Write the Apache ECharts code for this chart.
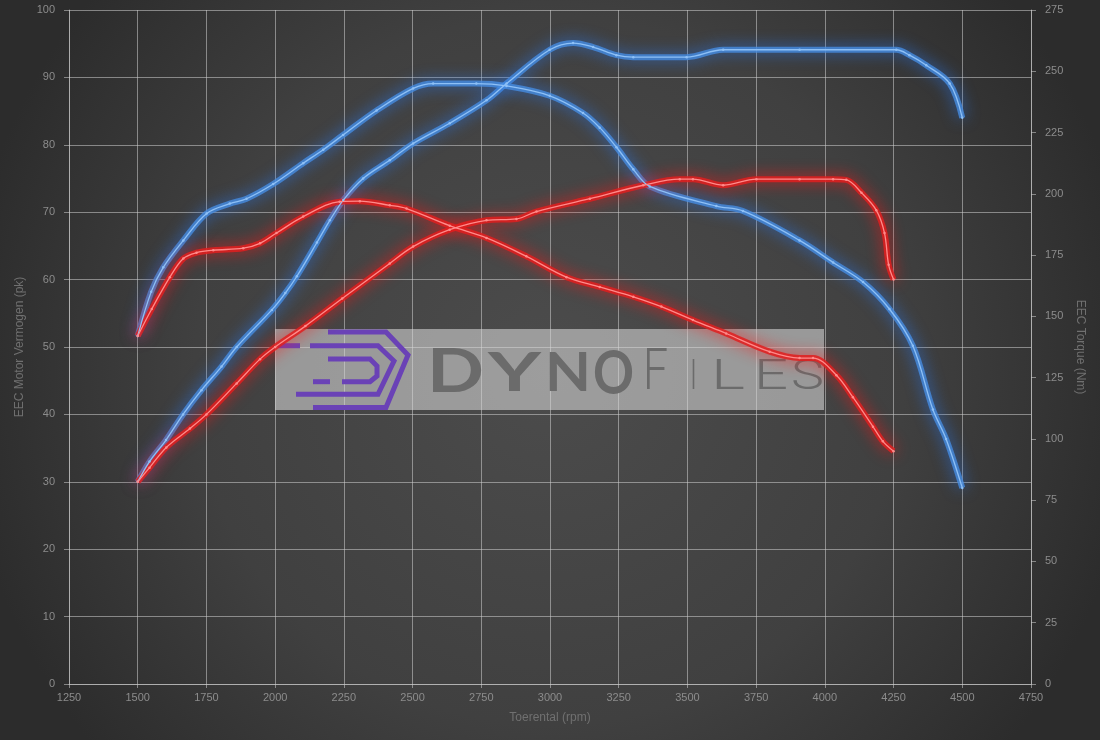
<!DOCTYPE html>
<html><head><meta charset="utf-8">
<script src="https://cdn.jsdelivr.net/npm/echarts@6/dist/echarts.min.js"></script>
<style>html,body{margin:0;padding:0;background:#3a3a3a;}#c{width:1100px;height:740px;}</style>
</head><body><div id="c"></div>
<script>
// ---- data ----
const bluePowerRpm = [1500,1543,1603,1665,1732,1805,1860,1988,2037,2079,2152,2199,2248,2320,2417,2502,2635,2769,2842,2999,3084,3157,3242,3303,3497,3630,3908,4260,4308,4369,4454,4500];
const bluePowerPk  = [30,33,36.2,40,43.6,47.1,50,55.5,58,60.5,65.5,68.8,71.8,75,77.7,80.2,83.2,86.6,89.1,94.1,95.1,94.5,93.3,93,93,94.1,94.1,94.1,93.3,91.8,89.1,84];

const blueTorqueRpm = [1500,1549,1593,1666,1751,1835,1896,1993,2102,2175,2247,2369,2502,2575,2732,2842,2999,3120,3181,3242,3303,3363,3605,3702,3908,4030,4139,4235,4320,4393,4441,4500];
const blueTorqueNm  = [142,160,170,181,192,196,198,204,212.5,218,224,234,243,245,245,244,240,233,227,219,210,203,195,193,181,172,164,153,138,112,100,80];

const redPowerRpm = [1500,1543,1604,1690,1750,1860,1945,2000,2110,2244,2417,2502,2635,2769,2878,2951,3145,3339,3472,3520,3630,3751,3908,4030,4078,4133,4187,4217,4232,4250];
const redPowerPk  = [30,32.1,35.1,37.9,40,44.6,48.2,50,53.1,57.2,62.4,64.9,67.4,68.8,69,70.1,72,74,74.9,74.9,74,74.9,74.9,74.9,74.8,72.9,70.3,66.9,62.2,60];

const redTorqueRpm = [1500,1551,1617,1666,1714,1775,1884,1945,2005,2102,2235,2308,2417,2478,2635,2769,2914,3060,3181,3303,3405,3520,3641,3799,3908,3957,4042,4102,4175,4211,4250];
const redTorqueNm  = [142,153,166,173.6,176,177,177.8,179.8,184,190.7,196.8,197,195.3,194,187,182,174.5,166,162,158,154,148.5,143,135.6,133,133,126,117,105,99,95];

const xMin = 1250, xMax = 4750, xStep = 250;
const pkMax = 100, pkStep = 10;
const nmMax = 275, nmStep = 25;

// ---- styles ----
const gridColor = 'rgba(205,205,205,0.55)';
const labelColor = '#8c8c8c';
const nameColor = '#707070';
const FONT = 'Liberation Sans, Arial, sans-serif';

function curve(name, rpm, vals, yIdx, band, core, glow) {
  const data = rpm.map((r, i) => [r, vals[i]]);
  return [
    { name: name, type: 'line', yAxisIndex: yIdx, data: data, smooth: 0.35, showSymbol: false, z: 3,
      lineStyle: { width: 6, color: band, shadowColor: glow, shadowBlur: 15 }, silent: true },
    { name: name + ' ', type: 'line', yAxisIndex: yIdx, data: data, smooth: 0.35, z: 4,
      symbol: 'circle', symbolSize: 2.5, showSymbol: true,
      itemStyle: { color: core }, lineStyle: { width: 1.3, color: core }, silent: true }
  ];
}

const series = [].concat(
  curve('Vermogen Stage', bluePowerRpm, bluePowerPk, 0, 'rgba(70,140,225,0.8)', '#8ec0f6', 'rgba(40,120,240,1)'),
  curve('Torque Stage', blueTorqueRpm, blueTorqueNm, 1, 'rgba(70,140,225,0.8)', '#8ec0f6', 'rgba(40,120,240,1)'),
  curve('Vermogen Origineel', redPowerRpm, redPowerPk, 0, 'rgba(225,30,30,0.85)', '#ff8a8a', 'rgba(255,20,20,1)'),
  curve('Torque Origineel', redTorqueRpm, redTorqueNm, 1, 'rgba(225,30,30,0.85)', '#ff8a8a', 'rgba(255,20,20,1)')
);

// ---- watermark ----
const purple = '#6a42b6';
function poly(pts, w) {
  return { type: 'polyline', z: 1, silent: true, shape: { points: pts },
    style: { stroke: purple, lineWidth: w || 5, fill: null, lineJoin: 'miter' } };
}
const mctx = document.createElement('canvas').getContext('2d');
function letter(ch, left, right, capTop, capBottom, weight, family, dy) {
  const cap = capBottom - capTop;
  const size = Math.round(cap / 0.72);
  const font = weight + ' ' + size + 'px ' + family;
  mctx.font = font;
  const w = mctx.measureText(ch).width || (size * 0.6);
  const cx = (left + right) / 2;
  return { type: 'text', z: 1, silent: true, x: cx, y: (capTop + capBottom) / 2 + size * 0.03 + (dy || 0),
    scaleX: (right - left) / w, scaleY: 1,
    style: { text: ch, font: font, fill: '#6b6b6b', align: 'center', verticalAlign: 'middle' } };
}
const graphics = [
  { type: 'rect', z: 1, silent: true, shape: { x: 275, y: 329, width: 549, height: 81 },
    style: { fill: 'rgba(215,215,215,0.58)' } },
  poly([[328,332],[386,332],[408,355],[386,407.5],[313,407.5]], 5),
  poly([[310,345.7],[378,345.7],[394,361],[378,394.3],[296,394.3]], 5),
  poly([[328,359],[370,359],[377,366],[377,376],[370,381.7],[342,381.7]], 5),
  poly([[278,345.7],[300,345.7]], 5),
  poly([[313,381.7],[330,381.7]], 5),
  letter('D', 427, 484, 348, 392, 'bold', 'Lato, sans-serif'),
  letter('Y', 488, 541, 353, 391, 'bold', 'Lato, sans-serif'),
  letter('N', 545, 591, 353, 391, 'bold', 'Lato, sans-serif'),
  letter('O', 593, 634, 349, 393, 'bold', 'Lato, sans-serif', 1),
  letter('F', 643, 668, 349, 391, '300', 'Roboto, sans-serif', 3),
  letter('I', 690, 697, 360, 391, '300', 'Roboto, sans-serif', 1),
  letter('L', 711, 745, 360, 391, '300', 'Roboto, sans-serif', 1),
  letter('E', 754, 788, 360, 391, '300', 'Roboto, sans-serif', 1),
  letter('S', 791, 824, 360, 391, '300', 'Roboto, sans-serif', 1)
];

const plain = v => String(v);
const chart = echarts.init(document.getElementById('c'), null, { renderer: 'canvas' });
chart.setOption({
  animation: false,
  backgroundColor: new echarts.graphic.RadialGradient(0.5, 0.5, 0.8, [
    { offset: 0, color: '#4c4c4c' }, { offset: 0.6, color: '#404040' }, { offset: 1, color: '#2c2c2c' }
  ]),
  textStyle: { fontFamily: FONT },
  grid: { left: 69, right: 69, top: 10, bottom: 56, containLabel: false },
  graphic: graphics,
  xAxis: {
    type: 'value', min: xMin, max: xMax, interval: xStep,
    name: 'Toerental (rpm)', nameLocation: 'middle', nameGap: 28,
    nameTextStyle: { color: nameColor, fontSize: 12, fontFamily: FONT },
    axisLine: { show: true, lineStyle: { color: gridColor } },
    axisTick: { show: true, length: 4, lineStyle: { color: gridColor } },
    axisLabel: { color: labelColor, fontSize: 11, margin: 8, fontFamily: FONT, formatter: plain },
    splitLine: { show: true, lineStyle: { color: gridColor, width: 1 } }
  },
  yAxis: [
    { type: 'value', min: 0, max: pkMax, interval: pkStep, position: 'left',
      name: 'EEC Motor Vermogen (pk)', nameLocation: 'middle', nameGap: 41, nameRotate: 90,
      nameTextStyle: { color: nameColor, fontSize: 12, fontFamily: FONT },
      axisLine: { show: true, lineStyle: { color: gridColor } },
      axisTick: { show: true, length: 5, lineStyle: { color: gridColor } },
      axisLabel: { color: labelColor, fontSize: 11, margin: 14, fontFamily: FONT, formatter: plain },
      splitLine: { show: true, lineStyle: { color: gridColor, width: 1 } } },
    { type: 'value', min: 0, max: nmMax, interval: nmStep, position: 'right',
      name: 'EEC Torque (Nm)', nameLocation: 'middle', nameGap: 43, nameRotate: -90,
      nameTextStyle: { color: nameColor, fontSize: 12, fontFamily: FONT },
      axisLine: { show: true, lineStyle: { color: gridColor } },
      axisTick: { show: true, length: 5, lineStyle: { color: gridColor } },
      axisLabel: { color: labelColor, fontSize: 11, margin: 14, fontFamily: FONT, formatter: plain },
      splitLine: { show: false } }
  ],
  series: series
});
</script>
</body></html>
